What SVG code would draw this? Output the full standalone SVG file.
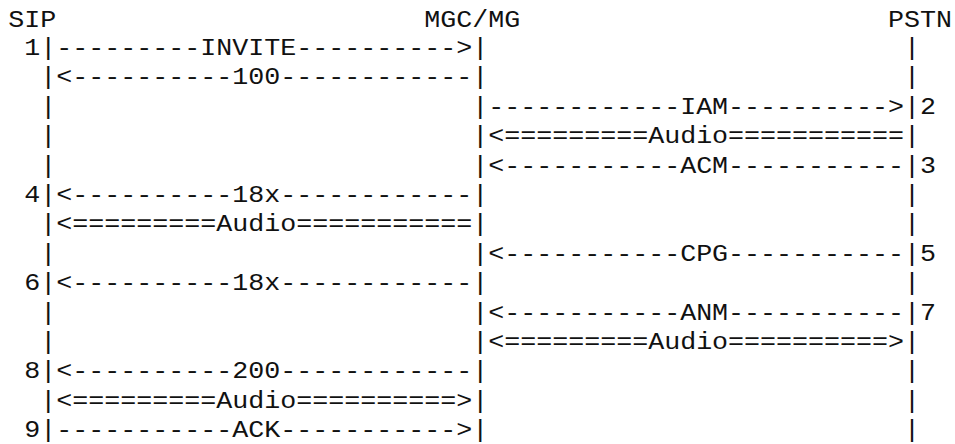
<svg xmlns="http://www.w3.org/2000/svg" width="955" height="444" viewBox="0 0 955 444">
<style>
text{font-family:"Liberation Mono","DejaVu Sans Mono",monospace;font-size:23px;fill:#111;white-space:pre}
</style>
<rect width="955" height="444" fill="#fff"/>
<g id="lines" transform="scale(1.15942,1)" xml:space="preserve">
<text id="header" x="7.16" y="27">SIP                       MGC/MG                       PSTN</text>
<text id="r1" x="7.16" y="55"> 1|---------INVITE----------&gt;|                          |</text>
<text id="r2" x="7.16" y="84.4">  |&lt;----------100------------|                          |</text>
<text id="r3" x="7.16" y="113.8">  |                          |------------IAM----------&gt;|2</text>
<text id="r4" x="7.16" y="143.2">  |                          |&lt;=========Audio===========|</text>
<text id="r5" x="7.16" y="172.6">  |                          |&lt;-----------ACM-----------|3</text>
<text id="r6" x="7.16" y="202"> 4|&lt;----------18x------------|                          |</text>
<text id="r7" x="7.16" y="231.4">  |&lt;=========Audio===========|                          |</text>
<text id="r8" x="7.16" y="260.8">  |                          |&lt;-----------CPG-----------|5</text>
<text id="r9" x="7.16" y="290.2"> 6|&lt;----------18x------------|                          |</text>
<text id="r10" x="7.16" y="319.6">  |                          |&lt;-----------ANM-----------|7</text>
<text id="r11" x="7.16" y="349">  |                          |&lt;=========Audio==========&gt;|</text>
<text id="r12" x="7.16" y="378.4"> 8|&lt;----------200------------|                          |</text>
<text id="r13" x="7.16" y="407.8">  |&lt;=========Audio==========&gt;|                          |</text>
<text id="r14" x="7.16" y="437.2"> 9|-----------ACK-----------&gt;|                          |</text>
</g>
</svg>
